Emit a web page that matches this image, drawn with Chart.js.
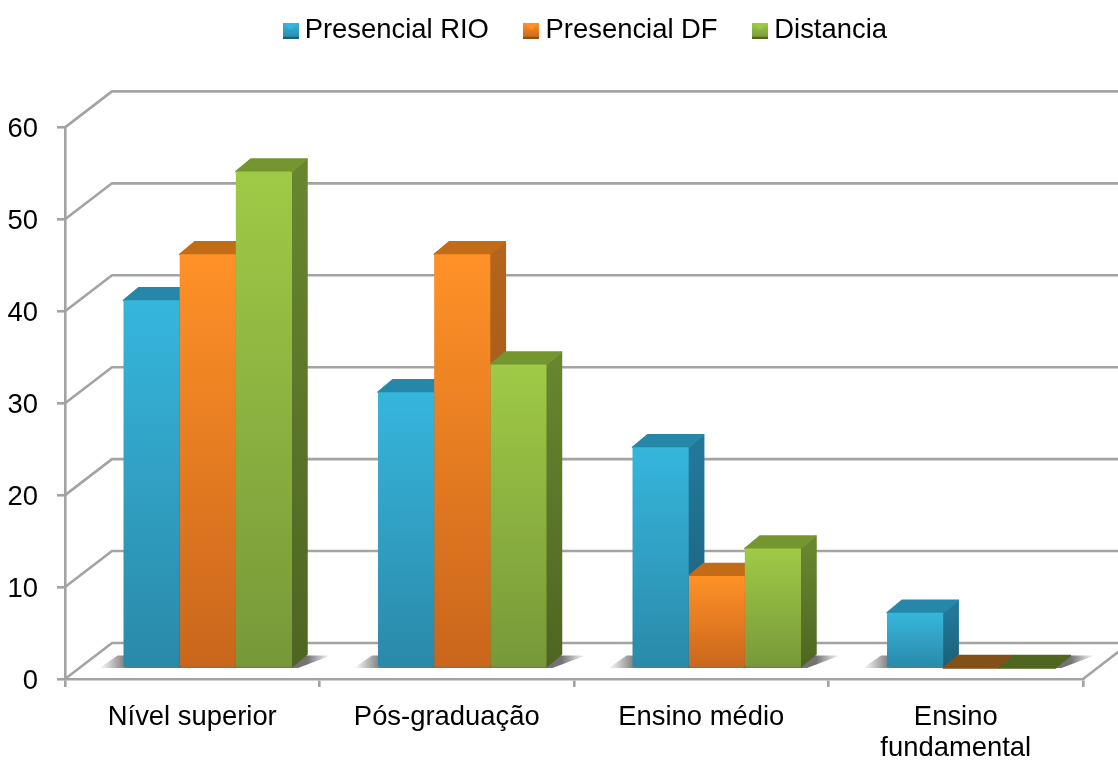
<!DOCTYPE html>
<html>
<head>
<meta charset="utf-8">
<style>
html,body{margin:0;padding:0;background:#fff;overflow:hidden}
canvas{display:block;filter:blur(0.45px)}
</style>
<script src="https://cdn.jsdelivr.net/npm/chart.js@4"></script>
</head>
<body>
<canvas id="c" width="1118" height="760"></canvas>
<script>
const categories = ["Nível superior", "Pós-graduação", "Ensino médio", ["Ensino", "fundamental"]];
const seriesNames = ["Presencial RIO", "Presencial DF", "Distancia"];
const presencialRio = [40, 30, 24, 6];
const presencialDf = [45, 45, 10, 0];
const distancia = [54, 33, 13, 0];
const yMax = 60;
const yStep = 10;

const frontTop = ["#36b6dc", "#ff9127", "#9fca46"];
const frontBottom = ["#2a89a9", "#c9661c", "#779839"];
const sideTop = ["#23789a", "#b5641d", "#67862f"];
const sideBottom = ["#1b5f78", "#8f4f17", "#4e6522"];
const topFace = ["#2787a8", "#c26c18", "#74952f"];
const zeroFace = ["#2787a8", "#84501a", "#4f6621"];
const gridColor = "#a3a3a3";
const FONT = "'Liberation Sans', Arial, sans-serif";

// projection of the pseudo-3D box
const wallDx = 47, wallDy = -36;
const barDx = 15.5, barDy = -11;
const depthDx = 15, depthDy = -12.5;

function swatch(i) {
  const c = document.createElement("canvas");
  c.width = 16; c.height = 16;
  const x = c.getContext("2d");
  const g = x.createLinearGradient(0, 0, 0, 16);
  g.addColorStop(0, frontTop[i]); g.addColorStop(1, frontBottom[i]);
  x.fillStyle = g; x.fillRect(0, 0, 16, 16);
  x.fillStyle = frontTop[i];
  x.beginPath(); x.moveTo(0,0); x.lineTo(16,0); x.lineTo(8,7); x.closePath(); x.fill();
  x.fillStyle = sideBottom[i];
  x.fillRect(0, 14, 16, 2);
  return c;
}

function frontFill(i) {
  return function (ctx) {
    const chart = ctx.chart, y = chart.scales.y;
    if (!y || ctx.parsed === undefined || !chart.chartArea) return frontTop[i];
    const top = y.getPixelForValue(ctx.parsed.y), base = y.getPixelForValue(0);
    if (base - top < 1) return frontTop[i];
    const g = chart.ctx.createLinearGradient(0, top, 0, base);
    g.addColorStop(0, frontTop[i]); g.addColorStop(1, frontBottom[i]);
    return g;
  };
}

const boxPlugin = {
  id: "box3d",
  afterLayout(chart) {
    const l = chart.legend;
    l.left = 248;
    l.top = -25;
  },
  beforeDatasetsDraw(chart) {
    const c = chart.ctx, ys = chart.scales.y, a = chart.chartArea;
    c.save();
    // wall and floor lines
    c.strokeStyle = gridColor; c.lineWidth = 2.6; c.lineJoin = "round";
    ys.ticks.forEach(t => {
      const p = ys.getPixelForValue(t.value);
      c.beginPath();
      c.moveTo(a.left, p);
      c.lineTo(a.left + wallDx, p + wallDy);
      c.lineTo(1130, p + wallDy);
      c.stroke();
    });

    const metas = [0, 1, 2].map(d => chart.getDatasetMeta(d));
    const baseY = ys.getPixelForValue(0) + barDy;

    // soft floor shadows
    categories.forEach((_, i) => {
      const l = metas[0].data[i], r = metas[2].data[i];
      const x0 = l.x - l.width / 2 + barDx, x1 = r.x + r.width / 2 + barDx;
      const left = x0 - 24, right = x1 + depthDx + 24, w = right - left;
      const g = c.createLinearGradient(left, 0, right, 0);
      g.addColorStop(0, "rgba(90,90,90,0)");
      g.addColorStop((x0 + 4 - left) / w, "rgba(90,90,90,0.85)");
      g.addColorStop((x1 + depthDx - left) / w, "rgba(90,90,90,0.85)");
      g.addColorStop(1, "rgba(90,90,90,0)");
      c.fillStyle = g;
      c.beginPath();
      c.moveTo(left, baseY);
      c.lineTo(x1 + 6, baseY);
      c.lineTo(right, baseY + depthDy);
      c.lineTo(x0 - 6, baseY + depthDy);
      c.closePath();
      c.fill();
    });
    // floor edge lines
    c.strokeStyle = gridColor; c.lineWidth = 2.6;
    c.beginPath(); c.moveTo(a.right, a.bottom); c.lineTo(a.right + wallDx, a.bottom + wallDy); c.stroke();

    // depth faces, left to right
    categories.forEach((_, i) => {
      [0, 1, 2].forEach(d => {
        const b = metas[d].data[i];
        const x0 = b.x - b.width / 2 + barDx, x1 = b.x + b.width / 2 + barDx;
        const yt = b.y + barDy, yb = b.base + barDy;
        c.lineJoin = "round"; c.lineWidth = 1.5;
        if (yb - yt > 1) {
          const g = c.createLinearGradient(0, yt, 0, yb);
          g.addColorStop(0, sideTop[d]); g.addColorStop(1, sideBottom[d]);
          c.fillStyle = g; c.strokeStyle = g;
          c.beginPath();
          c.moveTo(x1, yt); c.lineTo(x1 + depthDx, yt + depthDy);
          c.lineTo(x1 + depthDx, yb + depthDy); c.lineTo(x1, yb);
          c.closePath(); c.fill(); c.stroke();
        }
        const col = yb - yt > 1 ? topFace[d] : zeroFace[d];
        c.fillStyle = col; c.strokeStyle = col;
        c.beginPath();
        c.moveTo(x0, yt); c.lineTo(x0 + depthDx, yt + depthDy);
        c.lineTo(x1 + depthDx, yt + depthDy); c.lineTo(x1, yt);
        c.closePath(); c.fill(); c.stroke();
      });
    });
    c.restore();
    c.save();
    c.translate(barDx, barDy);
  },
  afterDatasetsDraw(chart) {
    chart.ctx.restore();
  }
};

const seriesValues = [presencialRio, presencialDf, distancia];

new Chart(document.getElementById("c"), {
  type: "bar",
  plugins: [boxPlugin],
  data: {
    labels: categories,
    datasets: seriesNames.map((name, i) => ({
      label: name,
      data: seriesValues[i],
      backgroundColor: frontFill(i),
      borderWidth: 0,
      borderRadius: 1,
      categoryPercentage: 0.662,
      barPercentage: 1,
      clip: false
    }))
  },
  options: {
    responsive: false,
    animation: false,
    layout: { autoPadding: false, padding: { top: 48, right: 35, left: 0, bottom: 0 } },
    plugins: {
      tooltip: { enabled: false },
      legend: {
        position: "top",
        align: "start",
        labels: {
          usePointStyle: true,
          boxWidth: 1,
          padding: 42,
          color: "#000",
          font: { family: FONT, size: 27.4 },
          generateLabels(chart) {
            return Chart.defaults.plugins.legend.labels.generateLabels(chart).map((it, i) => {
              it.pointStyle = swatch(i);
              it.fontColor = "#000";
              return it;
            });
          }
        }
      }
    },
    scales: {
      x: {
        afterFit(s) { s.height = 81; },
        border: { color: gridColor, width: 2.6 },
        grid: { color: gridColor, lineWidth: 2.6, drawOnChartArea: false, tickLength: 8, offset: true },
        ticks: {
          color: "#000", maxRotation: 0, minRotation: 0, padding: 15, autoSkip: false,
          font: { family: FONT, size: 27.4, lineHeight: 1.13 }
        }
      },
      y: {
        min: 0, max: yMax,
        afterFit(s) { s.width = 65; },
        border: { color: gridColor, width: 2.6 },
        grid: { color: gridColor, lineWidth: 2.6, drawOnChartArea: false, tickLength: 8 },
        ticks: {
          stepSize: yStep, color: "#000", padding: 19, labelOffset: 2,
          font: { family: FONT, size: 27.4 }
        }
      }
    }
  }
});
</script>
</body>
</html>
